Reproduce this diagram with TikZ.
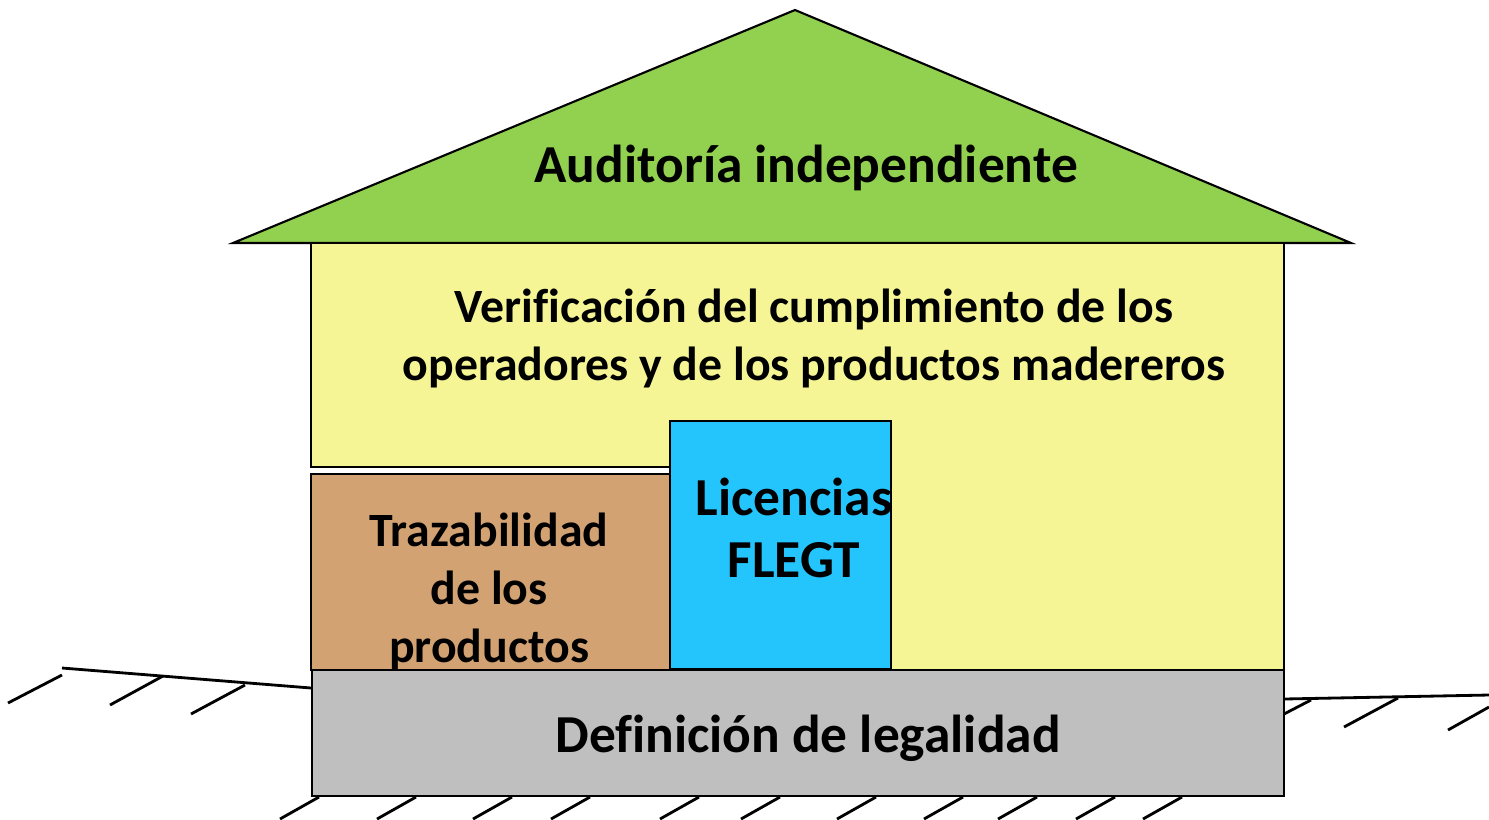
\documentclass[tikz,border=0pt]{standalone}
\usepackage{fontspec}
\setmainfont{Carlito}[Ligatures=NoCommon]
\usepackage{tikz}

\definecolor{roofgreen}{HTML}{92D050}
\definecolor{wallyellow}{HTML}{F5F595}
\definecolor{tracebrown}{HTML}{D2A273}
\definecolor{licblue}{HTML}{24C5FD}
\definecolor{basegray}{HTML}{BFBFBF}

\tikzset{
  houseline/.style={draw=black, line width=0.6pt},
  groundline/.style={black, line width=0.8pt},
  label/.style={font=\fontsize{13.6}{16.5}\selectfont\bfseries, align=center, inner sep=0pt},
  biglabel/.style={label, font=\fontsize{15.2}{17.6}\selectfont\bfseries}
}

\begin{document}
\begin{tikzpicture}[x=0.1mm, y=-0.1mm]
%\draw[help lines] (0,0) grid[step=100] (1489,819);
\useasboundingbox (0,0) rectangle (1489,819);

% ground
\draw[groundline] (62,668) -- (311,688);
\draw[groundline] (1284,699) -- (1489,695);
\draw[groundline] (8,703) -- (62,675);
\draw[groundline] (110,705) -- (163,676);
\draw[groundline] (191,714) -- (245,685);
\draw[groundline] (1284,714) -- (1311,700);
\draw[groundline] (1344,727) -- (1398,698);
\draw[groundline] (1448,730) -- (1489,707);
\foreach \x in {280,377,473,551,660,741,837,924,998,1076,1143}
  \draw[groundline] (\x,819) -- ++(39,-22);

% roof
\draw[houseline, fill=roofgreen] (233,243) -- (795,10) -- (1351,243) -- cycle;

% walls
\draw[houseline, fill=wallyellow] (311,243) -- (1284,243) -- (1284,670)
  -- (670,670) -- (670,467) -- (311,467) -- cycle;
\draw[houseline, fill=tracebrown] (311,474) rectangle (670,670);
\draw[houseline, fill=licblue] (670,421) rectangle (891,669);

% base
\draw[houseline, fill=basegray] (312,670) rectangle (1284,796);

% texts
\node[biglabel] (auditoria) at (806,168) {Auditoría independiente};
\node[label] (verificacion) at (814,338) {Verificación del cumplimiento de los\\operadores y de los productos madereros};
\node[label] (trazabilidad) at (489,591) {Trazabilidad\\de los\\productos};
\node[biglabel] (licencias) at (794,528) {Licencias\\FLEGT};
\node[biglabel] (legalidad) at (808,738) {Definición de legalidad};

\end{tikzpicture}
\end{document}
